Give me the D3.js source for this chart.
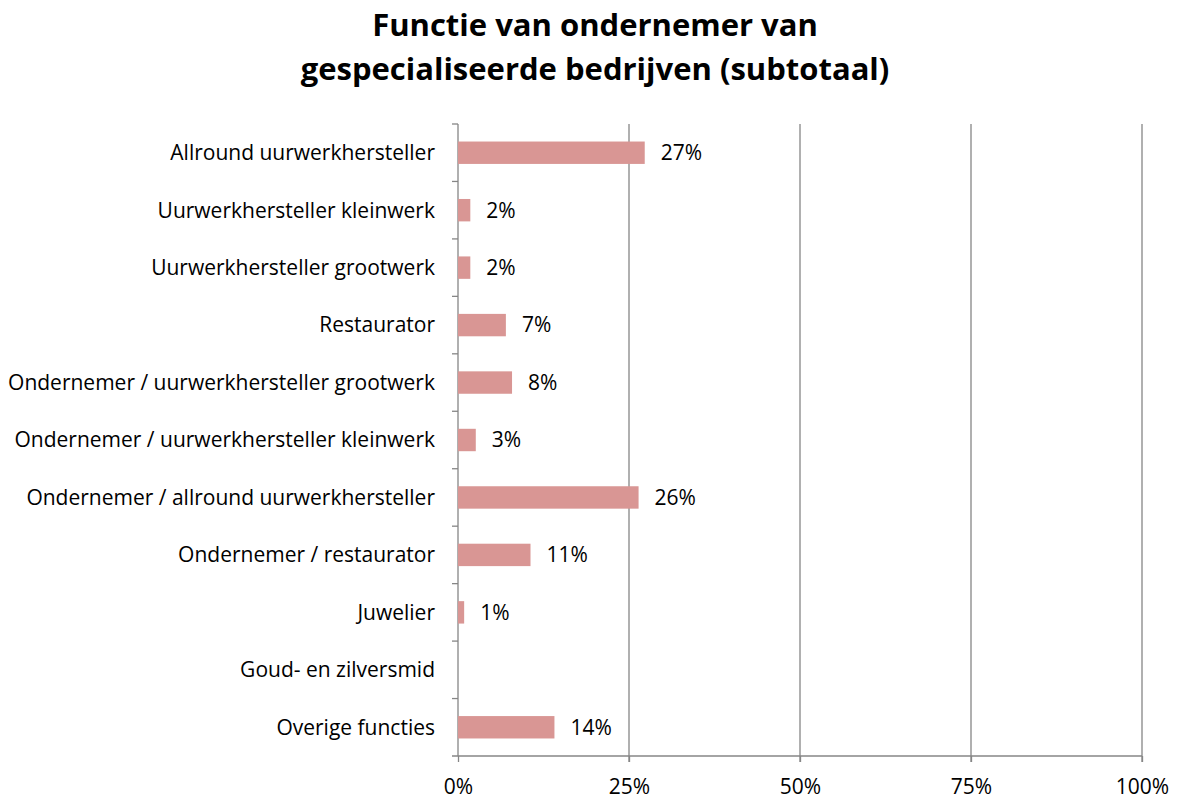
<!DOCTYPE html>
<html>
<head>
<meta charset="utf-8">
<script src="https://cdn.jsdelivr.net/npm/d3@7"></script>
<style>
  body { margin: 0; background: #fff; }
  text { font-family: "Open Sans", "Liberation Sans", sans-serif; fill: #000; }
</style>
</head>
<body>
<div id="chart"></div>
<script>
// datos
const categories = [
  "Allround uurwerkhersteller",
  "Uurwerkhersteller kleinwerk",
  "Uurwerkhersteller grootwerk",
  "Restaurator",
  "Ondernemer / uurwerkhersteller grootwerk",
  "Ondernemer / uurwerkhersteller kleinwerk",
  "Ondernemer / allround uurwerkhersteller",
  "Ondernemer / restaurator",
  "Juwelier",
  "Goud- en zilversmid",
  "Overige functies"
]
const values = [27.3, 1.8, 1.8, 7.0, 7.9, 2.6, 26.4, 10.6, 0.9, 0, 14.1]
const labels = ["27%", "2%", "2%", "7%", "8%", "3%", "26%", "11%", "1%", "", "14%"]
const xTicks = [0, 25, 50, 75, 100]
const titleLines = ["Functie van ondernemer van", "gespecialiseerde bedrijven (subtotaal)"]

const width = 1178, height = 799
const plotLeft = 458, plotRight = 1142, plotTop = 124, plotBottom = 756

const svg = d3.select("#chart")
  .append("svg")
  .attr("width", width)
  .attr("height", height)

// Titel
svg.append("g").selectAll("text")
  .data(titleLines)
  .enter().append("text")
  .attr("x", 595)
  .attr("y", (d, i) => 36 + i * 44)
  .attr("text-anchor", "middle")
  .style("font-size", "31px")
  .style("font-weight", "bold")
  .text(d => d)

// Escalas
const x = d3.scaleLinear().domain([0, 100]).range([plotLeft, plotRight])
const y = d3.scaleBand().domain(categories).range([plotTop, plotBottom]).paddingInner(0.61).paddingOuter(0.305)
const yOuter = d3.scaleBand().domain(categories).range([plotTop, plotBottom])

// gridlines
svg.append("g").selectAll("line")
  .data(xTicks.slice(1))
  .enter().append("line")
  .attr("x1", d => x(d)).attr("x2", d => x(d))
  .attr("y1", plotTop).attr("y2", plotBottom + 6)
  .attr("stroke", "#868686").attr("stroke-width", 1.3)

// x axis
const xAxis = svg.append("g")
  .attr("transform", `translate(0, ${plotBottom})`)
  .call(d3.axisBottom(x).tickValues(xTicks).tickFormat(d => d + "%").tickSize(6).tickPadding(17).tickSizeOuter(0))
xAxis.select(".domain").attr("stroke", "#868686").attr("stroke-width", 1.3)
  .attr("d", `M${plotLeft - 6},0H${plotRight}`)
xAxis.selectAll(".tick line").attr("stroke", "#868686").attr("stroke-width", 1.3)
xAxis.selectAll(".tick text").style("font-size", "21px").style("font-family", "Open Sans, sans-serif").attr("fill", "#000")

// y axis: ticks at band boundaries
const yAxisG = svg.append("g")
yAxisG.append("line")
  .attr("x1", plotLeft).attr("x2", plotLeft).attr("y1", plotTop).attr("y2", plotBottom)
  .attr("stroke", "#868686").attr("stroke-width", 1.3)
yAxisG.selectAll("line.tk")
  .data(categories)
  .enter().append("line").attr("class", "tk")
  .attr("x1", plotLeft - 6).attr("x2", plotLeft)
  .attr("y1", d => yOuter(d)).attr("y2", d => yOuter(d))
  .attr("stroke", "#868686").attr("stroke-width", 1.3)

// category labels
svg.append("g").selectAll("text")
  .data(categories)
  .enter().append("text")
  .attr("x", plotLeft - 23)
  .attr("y", d => yOuter(d) + yOuter.bandwidth() / 2)
  .attr("dy", "0.35em")
  .attr("text-anchor", "end")
  .style("font-size", "21px")
  .text(d => d)

// bars
const rows = categories.map((c, i) => ({ c, v: values[i], l: labels[i] }))
svg.append("g").selectAll("rect")
  .data(rows)
  .enter().append("rect")
  .attr("x", x(0))
  .attr("y", d => y(d.c))
  .attr("width", d => x(d.v) - x(0))
  .attr("height", y.bandwidth())
  .attr("fill", "#d99694")

// value labels
svg.append("g").selectAll("text")
  .data(rows)
  .enter().append("text")
  .attr("x", d => x(d.v) + 16)
  .attr("y", d => y(d.c) + y.bandwidth() / 2)
  .attr("dy", "0.35em")
  .style("font-size", "21px")
  .text(d => d.l)
</script>
</body>
</html>
